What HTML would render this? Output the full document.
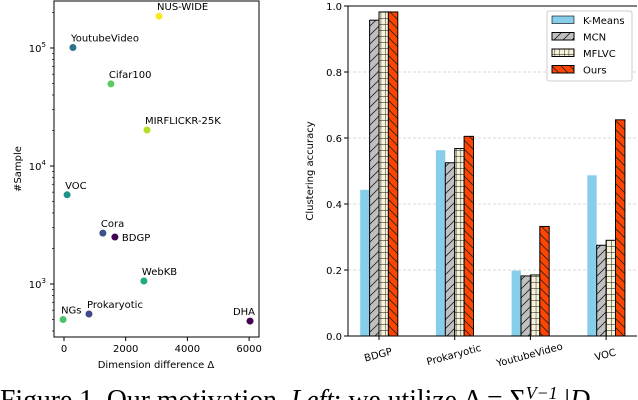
<!DOCTYPE html>
<html><head><meta charset="utf-8">
<style>
html,body{margin:0;padding:0;background:#fff;width:638px;height:400px;overflow:hidden}
svg text{font-family:"DejaVu Sans","Liberation Sans",sans-serif}
</style></head>
<body>
<svg id="fig" width="638" height="400" xmlns="http://www.w3.org/2000/svg">
<defs>
<pattern id="hatchMCN" patternUnits="userSpaceOnUse" width="9" height="9"><rect width="9" height="9" fill="#c0c0c0"/><path d="M0,9 L9,0 M-2,2 L2,-2 M7,11 L11,7" stroke="#222" stroke-width="0.8"/></pattern>
<pattern id="hatchMF" patternUnits="userSpaceOnUse" width="4.7" height="6"><rect width="4.7" height="6" fill="#f7f3d9"/><path d="M0,0 H4.7 M0,0 V6" stroke="#111" stroke-width="0.9"/></pattern>
<pattern id="hatchOurs" patternUnits="userSpaceOnUse" width="9" height="9"><rect width="9" height="9" fill="#ff4500"/><path d="M0,0 L9,9 M-2,7 L2,11 M7,-2 L11,2" stroke="#222" stroke-width="0.8"/></pattern>
</defs>
<g id="left"></g>
<g id="right"></g>
<text x="0" y="409" font-size="28" style="font-family:'Liberation Serif',serif" textLength="590" lengthAdjust="spacingAndGlyphs">Figure 1. Our motivation. <tspan font-style="italic">Left</tspan>: we utilize Δ = Σ<tspan baseline-shift="super" font-size="18" font-style="italic">V−1</tspan> |<tspan font-style="italic">D</tspan></text>
</svg>
<script>
// ---- scatter data ----
const datasets = ["NUS-WIDE","YoutubeVideo","Cifar100","MIRFLICKR-25K","VOC","Cora","BDGP","WebKB","NGs","Prokaryotic","DHA"];
const dimDiff = [3080,290,1520,2690,100,1260,1650,2590,-30,810,6030];
const samples = [186000,101000,49600,20200,5700,2700,2500,1060,500,557,485];
const colors = ["#fde725","#2c728e","#5ec962","#b5de2b","#21918c","#3b528b","#440154","#22a884","#4ac16d","#3e4a89","#440154"];
const xTicks = [0,2000,4000,6000];
// ---- bar data ----
const cats = ["BDGP","Prokaryotic","YoutubeVideo","VOC"];
const methods = ["K-Means","MCN","MFLVC","Ours"];
const kmeans = [0.443,0.563,0.198,0.487];
const mcn = [0.957,0.525,0.182,0.275];
const mflvc = [0.982,0.568,0.185,0.290];
const ours = [0.982,0.605,0.332,0.655];
const yTicks = [0.0,0.2,0.4,0.6,0.8,1.0];

const NS="http://www.w3.org/2000/svg";
function mk(p,tag,a,txt){const e=document.createElementNS(NS,tag);for(const k in a)e.setAttribute(k,a[k]);if(txt!==undefined)e.textContent=txt;p.appendChild(e);return e;}

// left
const L=document.getElementById('left');
const lx=v=>64+(v/2000)*61.7;
const ly=v=>166-(Math.log10(v)-4)*118;
const ax=mk(L,'rect',{x:54,y:1,width:205,height:336,fill:'none',stroke:'#000','stroke-width':1});


xTicks.forEach(t=>{const x=lx(t);
 const tk=mk(L,'line',{x1:x,x2:x,y1:337,y2:341,stroke:'#000'});
 
 
 const tl=mk(L,'text',{x:x,y:352,'font-size':10,'text-anchor':'middle'},String(t));
 
 
});
for(let d=2;d<=5;d++){for(let m=1;m<10;m++){const v=m*Math.pow(10,d);const y=ly(v);if(y<1||y>337)continue;
 const tk=mk(L,'line',{x1:54,x2:m==1?50:52,y1:y,y2:y,stroke:'#000','stroke-width':m==1?1:0.7});
 
 
 if(m==1){const tl=mk(L,'text',{x:46,y:y+4,'font-size':10,'text-anchor':'end'});tl.innerHTML='10<tspan dy="-5" font-size="7">'+d+'</tspan>';
 
 }
}}
const xt=mk(L,'text',{x:156,y:368,'font-size':10,'text-anchor':'middle'},'Dimension difference Δ');


const yt=mk(L,'text',{x:0,y:0,'font-size':10,'text-anchor':'middle',transform:'translate(21,169) rotate(-90)'},'#Sample');


datasets.forEach((n,i)=>{const x=lx(dimDiff[i]),y=ly(samples[i]);
 const c=mk(L,'circle',{cx:x,cy:y,r:3.5,fill:colors[i]});
 
 
 let tx=x-2,ty=y-6,anc='start';
 if(n==='BDGP'){tx=x+7;ty=y+4;}
 if(n==='DHA'){tx=x+5;ty=y-6;anc='end';}
 const t=mk(L,'text',{x:tx,y:ty,'font-size':10,'text-anchor':anc},n);
 
 
});

// right
const R=document.getElementById('right');
const X0=348,X1=637,Y0=336;
const ry=v=>Y0-v*330;
const gx=i=>379+i*75.7;
const BW=9.4;
yTicks.forEach(t=>{const y=ry(t);
 if(t>0&&t<1){const g=mk(R,'line',{x1:X0,x2:X1,y1:y,y2:y,stroke:'#ccc','stroke-dasharray':'3,2','stroke-width':0.7});
 
 }
 const tk=mk(R,'line',{x1:X0-4,x2:X0,y1:y,y2:y,stroke:'#000'});
 
 
 const tl=mk(R,'text',{x:X0-6,y:y+4,'font-size':10,'text-anchor':'end'},t.toFixed(1));
 
 
});
const series=[kmeans,mcn,mflvc,ours];
const fills=['#87ceeb','url(#hatchMCN)','url(#hatchMF)','url(#hatchOurs)'];
cats.forEach((c,ci)=>{series.forEach((s,si)=>{
 const x=gx(ci)+(si-2)*BW, y=ry(s[ci]);
 const b=mk(R,'rect',{x:x,y:y,width:BW,height:Y0-y,fill:fills[si],stroke:'#000','stroke-width':si==0?0:1});
 
 
});
 const x=gx(ci);
 const tk=mk(R,'line',{x1:x,x2:x,y1:Y0,y2:Y0+4,stroke:'#000'});
 
 
 const tl=mk(R,'text',{x:0,y:0,'font-size':10,'text-anchor':'middle',transform:'translate('+x+',358) rotate(-15)'},c);
 
 
});
const fr=mk(R,'path',{d:'M'+X0+',6 V'+Y0+' H'+X1,fill:'none',stroke:'#000','stroke-width':1});


mk(R,'line',{x1:X0,x2:X1,y1:6,y2:6,stroke:'#000','stroke-width':1});
const yl=mk(R,'text',{x:0,y:0,'font-size':10,'text-anchor':'middle',transform:'translate(313,171) rotate(-90)'},'Clustering accuracy');


const lg=mk(R,'rect',{x:547,y:11,width:85,height:70,fill:'#fff',stroke:'#ccc',rx:2});


methods.forEach((m,i)=>{const y=16+i*16.5;
 const sw=mk(R,'rect',{x:552,y:y,width:22,height:7.5,fill:fills[i],stroke:'#000','stroke-width':i==0?0.6:1});
 
 
 const t=mk(R,'text',{x:583,y:y+8,'font-size':10},m);
 
 
});
</script>
</body></html>
